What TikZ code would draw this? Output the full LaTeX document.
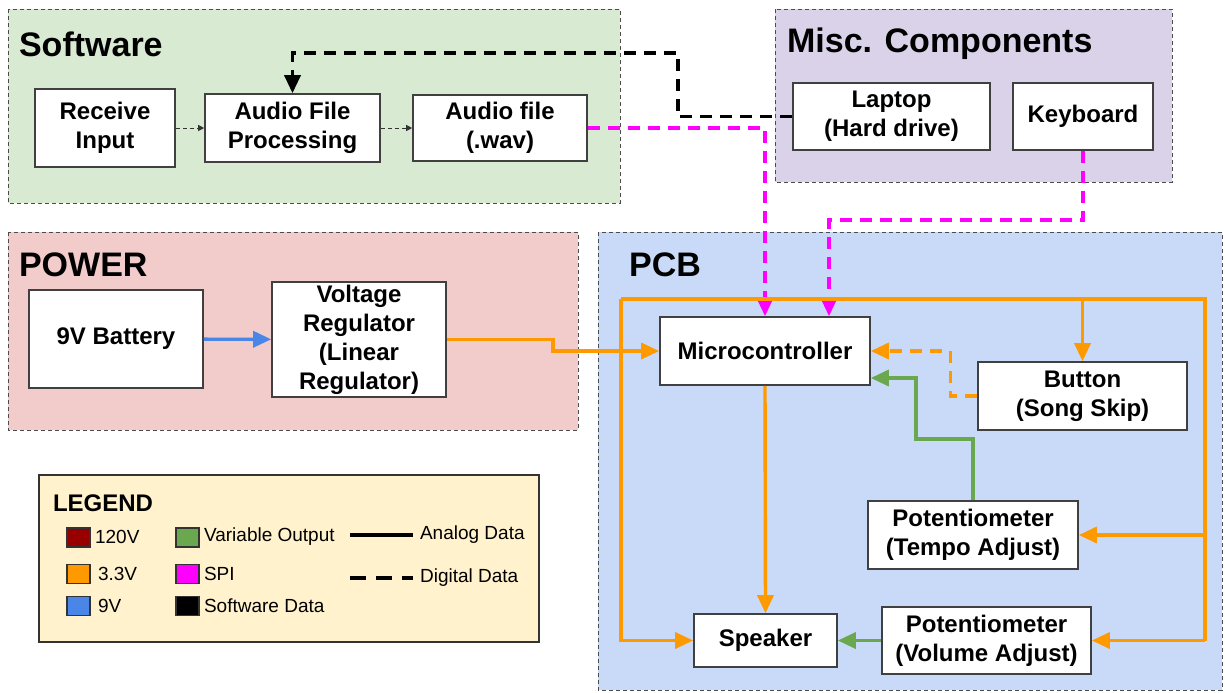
\documentclass[tikz,border=0pt]{standalone}
\usepackage{fontspec}
\setmainfont{Liberation Sans}
\usetikzlibrary{arrows.meta,calc}

\definecolor{swgreen}{HTML}{D9EAD3}
\definecolor{miscpurple}{HTML}{D9D2E9}
\definecolor{powerred}{HTML}{F2CBCB}
\definecolor{pcbblue}{HTML}{C9DAF8}
\definecolor{legyellow}{HTML}{FFF2CC}
\definecolor{cdarkred}{HTML}{980000}
\definecolor{corange}{HTML}{FF9900}
\definecolor{cblue}{HTML}{4A86E8}
\definecolor{cgreen}{HTML}{6AA84F}
\definecolor{cmagenta}{HTML}{FF00FF}

\begin{document}
\begin{tikzpicture}
  [x=0.5pt,y=-0.5pt,
   every node/.style={font=\bfseries\fontsize{12}{14.5}\selectfont,align=center},
   caja/.style={draw=black!75,fill=white,line width=0.8pt,inner sep=0pt},
   panel/.style={draw=black!70,line width=0.5pt,dash pattern=on 2pt off 1.5pt},
   titulo/.style={anchor=west,font=\bfseries\fontsize{17}{20}\selectfont},
   flecha/.style={-{Triangle[length=9pt,width=8pt]}},
   linea/.style={line width=1.7pt},
   digital/.style={dash pattern=on 6pt off 4pt},
   pwr/.style={linea,draw=corange},
   spi/.style={linea,digital,draw=cmagenta,-{Triangle[length=9pt,width=8pt,fill=cmagenta]}},
   fino/.style={line width=0.5pt,draw=black!80,dash pattern=on 2pt off 1.5pt,-{Triangle[length=3pt,width=3pt]}},
   muestra/.style={draw=black!80,line width=0.6pt,minimum width=11.5pt,minimum height=9.5pt,inner sep=0pt},
   leyenda/.style={anchor=west,font=\fontsize{9.5}{11}\selectfont}]
\useasboundingbox (0,0) rectangle (1225,692);

% Paneles de fondo
  \draw[panel,fill=swgreen]    (8,9)    rectangle (620,203);
  \draw[panel,fill=miscpurple] (775,9)  rectangle (1172,182);
  \draw[panel,fill=powerred]   (8,232)  rectangle (578,430);
  \draw[panel,fill=pcbblue]    (598,232) rectangle (1222,690);

  \node[titulo] (tsw)   at (12,44)  {Software};
  \node[titulo] (tmisc) at (780,44) {Misc. Components};
  \node[titulo] (tpow)  at (12,265) {POWER};
  \node[titulo] (tpcb)  at (622,265) {PCB};

  % Bloques
  \node[caja,minimum width=70pt,minimum height=39pt]   (recv)  at (105,128)    {Receive\\Input};
  \node[caja,minimum width=87.5pt,minimum height=34pt] (afp)   at (292.5,128)  {Audio File\\Processing};
  \node[caja,minimum width=87pt,minimum height=33pt]   (wav)   at (500,128)    {Audio file\\(.wav)};
  \node[caja,minimum width=98.5pt,minimum height=33.5pt] (laptop) at (891.5,116.5) {Laptop\\(Hard drive)};
  \node[caja,minimum width=70pt,minimum height=33.5pt] (kbd)   at (1083,116.5) {Keyboard};
  \node[caja,minimum width=87pt,minimum height=49pt]   (bat)   at (116,339)    {9V Battery};
  \node[caja,minimum width=87pt,minimum height=57.5pt] (vreg)  at (359,339.5)  {Voltage\\Regulator\\(Linear\\Regulator)};
  \node[caja,minimum width=105pt,minimum height=34pt]  (mcu)   at (765,351)    {Microcontroller};
  \node[caja,minimum width=104.5pt,minimum height=34pt] (btn)  at (1082.5,396) {Button\\(Song Skip)};
  \node[caja,minimum width=105pt,minimum height=34pt]  (tempo) at (973,535)    {Potentiometer\\(Tempo Adjust)};
  \node[caja,minimum width=71.5pt,minimum height=26.5pt] (spk) at (765.5,640.5) {Speaker};
  \node[caja,minimum width=104.5pt,minimum height=33.5pt] (vol) at (986.5,640.5) {Potentiometer\\(Volume Adjust)};

  % Software
  \draw[fino] (recv) -- (afp);
  \draw[fino] (afp) -- (wav);
  \coordinate (b1) at (678,53);
  \draw[linea,digital,flecha] (laptop.west) -| (b1) -| (afp.north);

  % SPI
  \draw[spi] (wav.east) -| (mcu.north);
  \coordinate (k1) at (829,220);
  \draw[spi] (kbd.south) |- (k1) -- (k1 |- mcu.north);

  % Alimentacion
  \draw[linea,draw=cblue,-{Triangle[length=9pt,width=8pt,fill=cblue]}] (bat) -- (vreg);
  \coordinate (r1) at (553,351);
  \draw[pwr,-{Triangle[length=9pt,width=8pt,fill=corange]}] (vreg.east) -| (r1) -- (mcu.west);

  \coordinate (bus-tl) at (621,299);
  \coordinate (bus-tr) at (1205,299);
  \draw[pwr] (bus-tl) -- (bus-tr) -- (bus-tr |- vol.east);
  \draw[pwr,-{Triangle[length=9pt,width=8pt,fill=corange]}] (bus-tl) |- (spk.west);
  \draw[pwr,-{Triangle[length=9pt,width=8pt,fill=corange]}] (bus-tr |- tempo.east) -- (tempo.east);
  \draw[pwr,-{Triangle[length=9pt,width=8pt,fill=corange]}] (bus-tr |- vol.east) -- (vol.east);
  \draw[pwr,-{Triangle[length=9pt,width=8pt,fill=corange]}] (btn.north |- bus-tl) -- (btn.north);
  \draw[pwr,-{Triangle[length=9pt,width=8pt,fill=corange]}] (mcu.south) -- (spk.north);
  \draw[pwr,digital,-{Triangle[length=9pt,width=8pt,fill=corange]}] (btn.west) -- ++(-27,0) |- (mcu.east);

  % Salida variable
  \coordinate (g1) at (916,439);
  \draw[linea,draw=cgreen,-{Triangle[length=9pt,width=8pt,fill=cgreen]}] (tempo.north) |- (g1) |- ([yshift=-13.5pt]mcu.east);
  \draw[linea,draw=cgreen,-{Triangle[length=9pt,width=8pt,fill=cgreen]}] (vol.west) -- (spk.east);

  % Leyenda
  \draw[draw=black!80,line width=0.8pt,fill=legyellow] (39,475) rectangle (539,642);
  \node[anchor=west,font=\bfseries\fontsize{12}{14}\selectfont] (tleg) at (46,503) {LEGEND};
  \node[muestra,fill=cdarkred] (s120) at (78.5,537.5) {};
  \node[muestra,fill=corange]  (s33)  at (78.5,574)   {};
  \node[muestra,fill=cblue]    (s9)   at (78.5,606)   {};
  \node[muestra,fill=cgreen]   (svar) at (187.5,537.5) {};
  \node[muestra,fill=cmagenta] (sspi) at (187.5,574)   {};
  \node[muestra,fill=black]    (ssw)  at (187.5,606)   {};
  \node[leyenda] (t120) at (88,537)  {120V};
  \node[leyenda] (t33)  at (91,574)  {3.3V};
  \node[leyenda] (t9)   at (91,606)  {9V};
  \node[leyenda] (tvar) at (197,537) {Variable Output};
  \node[leyenda] (tspi) at (197,574) {SPI};
  \node[leyenda] (tsw2) at (197,606) {Software Data};
  \node[leyenda] (tana) at (413,535) {Analog Data};
  \node[leyenda] (tdig) at (413,578) {Digital Data};
  \coordinate (la) at (350,535);
  \coordinate (ld) at (350,578);
  \draw[linea] (la) -- (tana.west);
  \draw[linea,dash pattern=on 8pt off 5pt] (ld) -- (tdig.west);
\end{tikzpicture}
\end{document}
